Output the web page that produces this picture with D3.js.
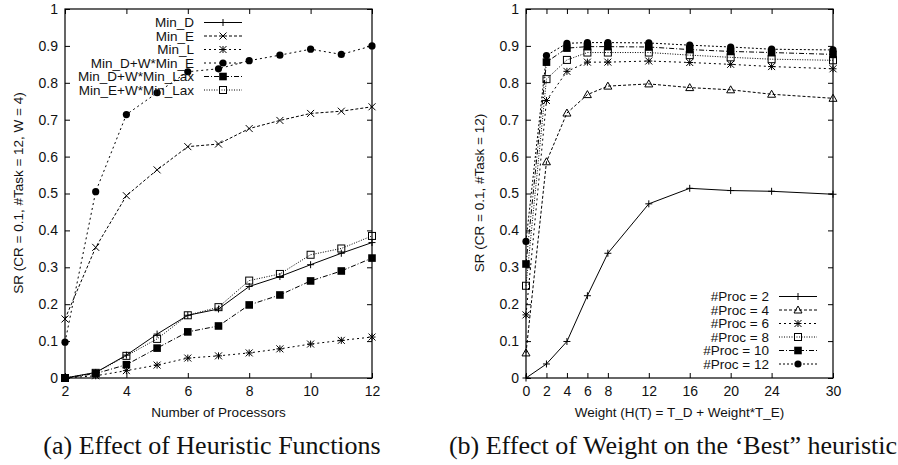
<!DOCTYPE html>
<html>
<head>
<meta charset="utf-8">
<script src="https://cdn.jsdelivr.net/npm/d3@7"></script>
<style>
  body { margin: 0; background: #fff; }
  text { font-family: "Liberation Sans", Arial, sans-serif; fill: #111; }
  .caption { font-family: "Liberation Serif", "Times New Roman", serif; }
</style>
</head>
<body>
<div id="chart"></div>
<script>
// ---- data (a): success ratio vs number of processors
var procs = [2, 3, 4, 5, 6, 7, 8, 9, 10, 11, 12];
var minD        = [0, 0.015, 0.062, 0.119, 0.170, 0.187, 0.248, 0.275, 0.307, 0.338, 0.367];
var minE        = [0.160, 0.354, 0.494, 0.564, 0.627, 0.634, 0.676, 0.698, 0.717, 0.723, 0.735];
var minL        = [0, 0.006, 0.020, 0.035, 0.054, 0.060, 0.068, 0.079, 0.092, 0.102, 0.111];
var minDWminE   = [0.097, 0.505, 0.714, 0.773, 0.830, 0.838, 0.860, 0.875, 0.891, 0.877, 0.900];
var minDWminLax = [0, 0.012, 0.036, 0.081, 0.125, 0.141, 0.198, 0.225, 0.263, 0.290, 0.325];
var minEWminLax = [0, 0.014, 0.060, 0.106, 0.170, 0.192, 0.264, 0.282, 0.334, 0.351, 0.385];
var procTicks = [2, 4, 6, 8, 10, 12];

// ---- data (b): success ratio vs weight
var weights = [0, 2, 4, 6, 8, 12, 16, 20, 24, 30];
var proc2  = [0, 0.038, 0.099, 0.223, 0.338, 0.472, 0.514, 0.508, 0.506, 0.498];
var proc4  = [0.068, 0.586, 0.718, 0.768, 0.791, 0.797, 0.787, 0.781, 0.769, 0.758];
var proc6  = [0.171, 0.752, 0.831, 0.856, 0.856, 0.859, 0.855, 0.850, 0.844, 0.838];
var proc8  = [0.250, 0.810, 0.862, 0.882, 0.882, 0.882, 0.875, 0.869, 0.864, 0.861];
var proc10 = [0.309, 0.856, 0.894, 0.898, 0.898, 0.897, 0.890, 0.885, 0.882, 0.877];
var proc12 = [0.370, 0.874, 0.907, 0.909, 0.909, 0.908, 0.902, 0.897, 0.891, 0.889];
var weightTicks = [0, 2, 4, 6, 8, 12, 16, 20, 24, 30];

var srTicks = d3.range(0, 1.0001, 0.1);

var svg = d3.select("#chart").append("svg")
  .attr("width", 898)
  .attr("height", 465);

// draws one marker symbol centred at (cx, cy)
function marker(g, type, cx, cy) {
  var s = 3.5;
  if (type == "plus") {
    g.append("path").attr("d", "M" + (cx - s) + "," + cy + "h" + 2 * s + "M" + cx + "," + (cy - s) + "v" + 2 * s)
      .attr("stroke", "#000").attr("fill", "none");
  } else if (type == "cross") {
    g.append("path").attr("d", "M" + (cx - s) + "," + (cy - s) + "l" + 2 * s + "," + 2 * s + "M" + (cx - s) + "," + (cy + s) + "l" + 2 * s + "," + (-2 * s))
      .attr("stroke", "#000").attr("fill", "none");
  } else if (type == "star") {
    g.append("path").attr("d", "M" + (cx - s) + "," + cy + "h" + 2 * s + "M" + cx + "," + (cy - s) + "v" + 2 * s +
        "M" + (cx - s) + "," + (cy - s) + "l" + 2 * s + "," + 2 * s + "M" + (cx - s) + "," + (cy + s) + "l" + 2 * s + "," + (-2 * s))
      .attr("stroke", "#000").attr("fill", "none");
  } else if (type == "circle") {
    g.append("circle").attr("cx", cx).attr("cy", cy).attr("r", 3.6).attr("fill", "#000");
  } else if (type == "square") {
    g.append("rect").attr("x", cx - 3.8).attr("y", cy - 3.8).attr("width", 7.6).attr("height", 7.6).attr("fill", "#000");
  } else if (type == "osquare") {
    g.append("rect").attr("x", cx - 3.5).attr("y", cy - 3.5).attr("width", 7).attr("height", 7)
      .attr("fill", "none").attr("stroke", "#000");
  } else if (type == "triangle") {
    g.append("path").attr("d", "M" + cx + "," + (cy - 4) + "L" + (cx + 4) + "," + (cy + 3) + "L" + (cx - 4) + "," + (cy + 3) + "Z")
      .attr("fill", "none").attr("stroke", "#000");
  }
}

function drawPanel(opt) {
  var g = svg.append("g");
  var x = d3.scaleLinear().domain(opt.xDomain).range([opt.left, opt.right]);
  var y = d3.scaleLinear().domain([0, 1]).range([378, 9]);

  // frame
  g.append("rect")
    .attr("x", opt.left).attr("y", 9)
    .attr("width", opt.right - opt.left).attr("height", 369)
    .attr("fill", "none").attr("stroke", "#000").attr("stroke-width", 1.2);

  // axes, ticks pointing inward and mirrored
  var fmt = function(d) { return d3.format("~g")(+d.toFixed(1)); };
  g.append("g").attr("transform", "translate(" + opt.left + ",0)")
    .call(d3.axisLeft(y).tickValues(srTicks).tickSizeInner(-5).tickSizeOuter(0).tickPadding(7).tickFormat(fmt));
  g.append("g").attr("transform", "translate(" + opt.right + ",0)")
    .call(d3.axisRight(y).tickValues(srTicks).tickSizeInner(-5).tickSizeOuter(0).tickFormat(""));
  g.append("g").attr("transform", "translate(0,378)")
    .call(d3.axisBottom(x).tickValues(opt.xTicks).tickSizeInner(-5).tickSizeOuter(0).tickPadding(8).tickFormat(d3.format("d")));
  g.append("g").attr("transform", "translate(0,9)")
    .call(d3.axisTop(x).tickValues(opt.xTicks).tickSizeInner(-5).tickSizeOuter(0).tickFormat(""));
  g.selectAll(".domain").remove();
  g.selectAll(".tick line").attr("stroke", "#000");
  g.selectAll(".tick text").style("font-size", "14px").attr("fill", "#111");

  // series
  var line = d3.line().x(function(d) { return x(d[0]); }).y(function(d) { return y(d[1]); });
  opt.series.forEach(function(s) {
    var pts = opt.xs.map(function(v, i) { return [v, s.values[i]]; });
    g.append("path").datum(pts)
      .attr("d", line)
      .attr("fill", "none").attr("stroke", "#000").attr("stroke-width", 1)
      .attr("stroke-dasharray", s.dash);
    pts.forEach(function(p) { marker(g, s.mark, x(p[0]), y(p[1])); });
  });

  // legend
  opt.series.forEach(function(s, i) {
    var ly = opt.legendY + i * 13.5;
    g.append("text").attr("x", opt.legendX).attr("y", ly).attr("dy", "0.36em")
      .attr("text-anchor", "end").style("font-size", "13.5px").text(s.name);
    g.append("line").attr("x1", opt.legendX + 10).attr("x2", opt.legendX + 48)
      .attr("y1", ly).attr("y2", ly)
      .attr("stroke", "#000").attr("stroke-dasharray", s.dash);
    marker(g, s.mark, opt.legendX + 29, ly);
  });

  // axis titles
  g.append("text").attr("x", (opt.left + opt.right) / 2).attr("y", 417)
    .attr("text-anchor", "middle").style("font-size", "13.5px").text(opt.xLabel);
  g.append("text").attr("transform", "translate(" + opt.yLabelX + ",193) rotate(-90)")
    .attr("text-anchor", "middle").style("font-size", "13.5px").text(opt.yLabel);

  // caption
  g.append("text").attr("class", "caption").attr("x", opt.captionX).attr("y", 454)
    .attr("text-anchor", "middle").style("font-size", "26px").text(opt.caption);
}

drawPanel({
  left: 65, right: 372,
  xDomain: [2, 12], xTicks: procTicks, xs: procs,
  legendX: 194, legendY: 22.5,
  yLabelX: 23,
  xLabel: "Number of Processors",
  yLabel: "SR (CR = 0.1, #Task = 12, W = 4)",
  caption: "(a) Effect of Heuristic Functions", captionX: 212,
  series: [
    {name: "Min_D", values: minD, mark: "plus", dash: null},
    {name: "Min_E", values: minE, mark: "cross", dash: "3,2"},
    {name: "Min_L", values: minL, mark: "star", dash: "2,3"},
    {name: "Min_D+W*Min_E", values: minDWminE, mark: "circle", dash: "2,3"},
    {name: "Min_D+W*Min_Lax", values: minDWminLax, mark: "square", dash: "5,2,1,2"},
    {name: "Min_E+W*Min_Lax", values: minEWminLax, mark: "osquare", dash: "1,1.5"}
  ]
});

drawPanel({
  left: 526, right: 833,
  xDomain: [0, 30], xTicks: weightTicks, xs: weights,
  legendX: 769, legendY: 296.5,
  yLabelX: 484,
  xLabel: "Weight (H(T) = T_D + Weight*T_E)",
  yLabel: "SR (CR = 0.1, #Task = 12)",
  caption: "(b) Effect of Weight on the \u2018Best\u201D heuristic", captionX: 673,
  series: [
    {name: "#Proc = 2", values: proc2, mark: "plus", dash: null},
    {name: "#Proc = 4", values: proc4, mark: "triangle", dash: "3,2"},
    {name: "#Proc = 6", values: proc6, mark: "star", dash: "2,3"},
    {name: "#Proc = 8", values: proc8, mark: "osquare", dash: "1,1.5"},
    {name: "#Proc = 10", values: proc10, mark: "square", dash: "5,2,1,2"},
    {name: "#Proc = 12", values: proc12, mark: "circle", dash: "2,2"}
  ]
});
</script>
</body>
</html>
